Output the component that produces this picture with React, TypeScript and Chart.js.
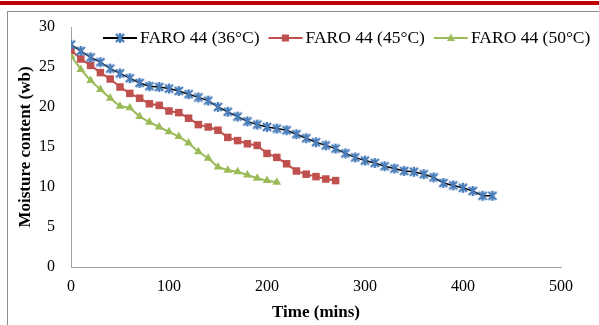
import React, { useEffect, useRef } from "react";
import { Chart, registerables } from "chart.js";

Chart.register(...registerables);

// ---- Data ----
const timeMins = [
  0, 10, 20, 30, 40, 50, 60, 70, 80, 90, 100, 110, 120, 130, 140, 150, 160, 170, 180, 190,
  200, 210, 220, 230, 240, 250, 260, 270, 280, 290, 300, 310, 320, 330, 340, 350, 360, 370,
  380, 390, 400, 410, 420, 430,
];
const faro36 = [
  27.8, 27.0, 26.2, 25.6, 24.8, 24.2, 23.6, 23.0, 22.6, 22.5,
  22.3, 22.0, 21.6, 21.2, 20.8, 20.0, 19.4, 18.8, 18.2, 17.8,
  17.5, 17.3, 17.1, 16.6, 16.1, 15.6, 15.2, 14.8, 14.2, 13.7,
  13.3, 13.0, 12.6, 12.3, 12.0, 11.9, 11.6, 11.2, 10.5, 10.2,
  9.9, 9.5, 8.9, 8.9,
];
const faro45 = [
  27.1, 26.0, 25.2, 24.3, 23.5, 22.5, 21.7, 21.1, 20.4, 20.2,
  19.5, 19.3, 18.6, 17.8, 17.5, 17.1, 16.2, 15.8, 15.4, 15.2,
  14.2, 13.7, 12.9, 12.0, 11.6, 11.3, 11.0, 10.8,
];
const faro50 = [
  26.4, 24.7, 23.3, 22.2, 21.1, 20.1, 19.9, 18.8, 18.1, 17.5,
  16.9, 16.3, 15.5, 14.4, 13.6, 12.5, 12.1, 11.9, 11.5, 11.1,
  10.8, 10.6,
];
const seriesLabels = ["FARO 44 (36°C)", "FARO 44 (45°C)", "FARO 44 (50°C)"];
const xTickValues = [0, 100, 200, 300, 400, 500];
const yTickValues = [0, 5, 10, 15, 20, 25, 30];
const xTitle = "Time (mins)";
const yTitle = "Moisture content (wb)";

const SERIF = "'Times New Roman', 'Liberation Serif', serif";
const BLUE = "#4a7ebb";
const RED = "#c0504d";
const GREEN = "#9bbb59";

function makeStar(color: string, size: number) {
  const c = document.createElement("canvas");
  c.width = size;
  c.height = size;
  const g = c.getContext("2d")!;
  g.strokeStyle = color;
  g.lineWidth = 2.4;
  const m = size / 2;
  const r = size / 2 - 1;
  const d = r * 0.8;
  g.beginPath();
  g.moveTo(m, m - r);
  g.lineTo(m, m + r);
  g.moveTo(m - d, m - d);
  g.lineTo(m + d, m + d);
  g.moveTo(m + d, m - d);
  g.lineTo(m - d, m + d);
  g.stroke();
  return c;
}

function toPoints(ys: number[]) {
  return ys.map((y, i) => ({ x: timeMins[i], y }));
}

const legendPlugin = {
  id: "customLegend",
  afterDraw(chart: any) {
    const ctx = chart.ctx;
    ctx.save();
    ctx.font = `17.5px ${SERIF}`;
    ctx.textBaseline = "middle";
    ctx.textAlign = "left";
    let x = 103;
    const y = 38;
    chart.data.datasets.forEach((ds: any) => {
      ctx.strokeStyle = ds.borderColor;
      ctx.lineWidth = 2;
      ctx.beginPath();
      ctx.moveTo(x, y);
      ctx.lineTo(x + 34, y);
      ctx.stroke();
      const px = x + 17;
      const ps = ds.pointStyle;
      if (ps instanceof HTMLCanvasElement) {
        ctx.drawImage(ps, px - ps.width / 2, y - ps.height / 2);
      } else if (ps === "rect") {
        ctx.fillStyle = ds.pointBackgroundColor;
        ctx.fillRect(px - 3.5, y - 3.5, 7, 7);
      } else if (ps === "triangle") {
        ctx.fillStyle = ds.pointBackgroundColor;
        ctx.beginPath();
        ctx.moveTo(px, y - 4.5);
        ctx.lineTo(px + 4, y + 3);
        ctx.lineTo(px - 4, y + 3);
        ctx.closePath();
        ctx.fill();
      }
      ctx.fillStyle = "#000";
      ctx.fillText(ds.label, x + 37, y);
      x += 37 + ctx.measureText(ds.label).width + 9;
    });
    ctx.restore();
  },
};

export default function App() {
  const canvasRef = useRef<HTMLCanvasElement | null>(null);

  useEffect(() => {
    const canvas = canvasRef.current;
    if (!canvas) return;
    const star = makeStar(BLUE, 12);
    const chart = new Chart(canvas, {
      type: "line",
      data: {
        datasets: [
          {
            label: seriesLabels[0],
            data: toPoints(faro36),
            borderColor: "#000000",
            borderWidth: 1.5,
            pointStyle: star as any,
            pointBackgroundColor: BLUE,
            pointBorderColor: BLUE,
            tension: 0,
          },
          {
            label: seriesLabels[1],
            data: toPoints(faro45),
            borderColor: RED,
            borderWidth: 2,
            pointStyle: "rect",
            pointRadius: 5.3,
            pointBorderWidth: 0,
            pointBackgroundColor: RED,
            pointBorderColor: RED,
            tension: 0,
          },
          {
            label: seriesLabels[2],
            data: toPoints(faro50),
            borderColor: GREEN,
            borderWidth: 2,
            pointStyle: "triangle",
            pointRadius: 5,
            pointBorderWidth: 0,
            pointBackgroundColor: GREEN,
            pointBorderColor: GREEN,
            tension: 0,
          },
        ],
      },
      options: {
        responsive: false,
        animation: false,
        devicePixelRatio: 1,
        layout: { padding: { left: 0, top: 27, right: 38, bottom: 0 } },
        plugins: {
          legend: { display: false },
          tooltip: { enabled: false },
        },
        scales: {
          x: {
            type: "linear",
            min: 0,
            max: 500,
            afterFit: (scale: any) => {
              scale.height = 58;
            },
            afterBuildTicks: (scale: any) => {
              scale.ticks = xTickValues.map((v) => ({ value: v }));
            },
            grid: { display: false, drawTicks: false },
            border: { display: true, color: "#a0a0a0", width: 1 },
            ticks: {
              padding: 10,
              color: "#000",
              font: { family: SERIF, size: 16 },
              maxRotation: 0,
            },
            title: {
              display: true,
              text: xTitle,
              color: "#000",
              font: { family: SERIF, size: 17, weight: "bold" },
              padding: { top: 0, bottom: 2 },
            },
          },
          y: {
            type: "linear",
            min: 0,
            max: 30,
            afterFit: (scale: any) => {
              scale.width = 71;
            },
            afterBuildTicks: (scale: any) => {
              scale.ticks = yTickValues.map((v) => ({ value: v }));
            },
            grid: { display: false, drawTicks: false },
            border: { display: true, color: "#a0a0a0", width: 1 },
            ticks: {
              padding: 16,
              color: "#000",
              font: { family: SERIF, size: 16 },
            },
            title: {
              display: true,
              text: yTitle,
              color: "#000",
              font: { family: SERIF, size: 17, weight: "bold" },
              padding: { top: 15, bottom: 0 },
            },
          },
        },
      },
      plugins: [legendPlugin],
    });
    return () => chart.destroy();
  }, []);

  return (
    <div
      style={{
        position: "fixed",
        left: 0,
        top: 0,
        width: 599,
        height: 325,
        overflow: "hidden",
        background: "#fff",
      }}
    >
      <div
        style={{
          position: "absolute",
          left: 0,
          top: 1,
          width: 599,
          height: 4,
          background: "#c00000",
        }}
      />
      <div
        style={{
          position: "absolute",
          left: 7,
          top: 11,
          width: 700,
          height: 400,
          border: "1px solid #8c8c8c",
        }}
      />
      <canvas
        ref={canvasRef}
        width={599}
        height={325}
        style={{ position: "absolute", left: 0, top: 0, width: 599, height: 325 }}
      />
    </div>
  );
}
